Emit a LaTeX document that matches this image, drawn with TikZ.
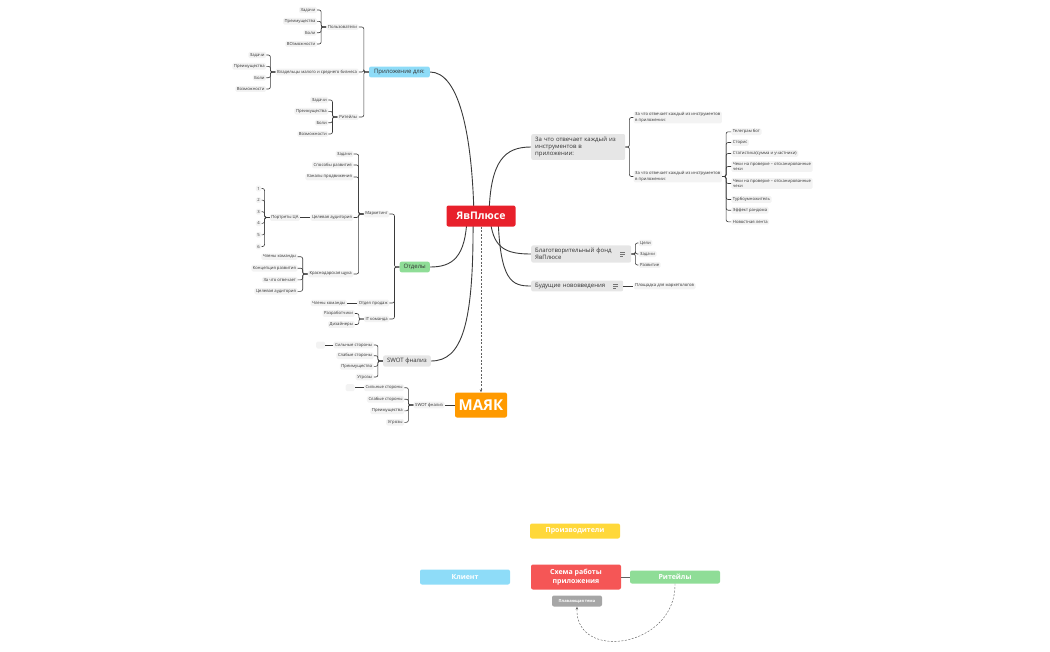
\documentclass[tikz,border=0pt]{standalone}
\usepackage{fontspec}
\setmainfont{Open Sans}
\usetikzlibrary{positioning, arrows.meta, backgrounds}

\definecolor{linec}{HTML}{3A3A3A}
\definecolor{textc}{HTML}{333333}
\definecolor{leafgray}{HTML}{F3F3F3}
\definecolor{topicgray}{HTML}{E6E6E6}
\definecolor{yavred}{HTML}{E8202B}
\definecolor{mayakor}{HTML}{FF9A00}
\definecolor{skyblue}{HTML}{8EDCF8}
\definecolor{mintgreen}{HTML}{8FDD97}
\definecolor{sunyellow}{HTML}{FFD83A}
\definecolor{schemared}{HTML}{F55656}
\definecolor{floatgray}{HTML}{A6A6A6}

% bracket links: parent on the right / on the left
\newcommand\lbr[2]{\foreach \c in {#2}{\draw[lnk] (#1.west) -- ++(-5,0) |- (\c.east);}}
\newcommand\rbr[2]{\foreach \c in {#2}{\draw[lnk] (#1.east) -- ++(4,0) |- (\c.west);}}
\newcommand\notemark[2]{%
  \draw[linec!70, line width=0.5pt] ([xshift=#2,yshift=2pt]#1.east) -- ++(5,0)
    ([xshift=#2]#1.east) -- ++(5,0)
    ([xshift=#2,yshift=-2pt]#1.east) -- ++(3,0);}

\begin{document}
\begin{tikzpicture}[
  x=1pt, y=-1pt, >=Stealth,
  leaf/.style={rounded corners=1.5pt, fill=leafgray, text=textc, inner xsep=1.6pt, inner ysep=1.3pt, font=\fontsize{4.2}{5.2}\selectfont},
  topic/.style={rounded corners=2pt, fill=topicgray, text=textc, inner xsep=4pt, inner ysep=2.6pt, font=\fontsize{6}{7.4}\selectfont},
  hub/.style={rounded corners=2pt, text=white, inner sep=1pt},
  board/.style={rounded corners=2pt, text=white, minimum width=90pt, minimum height=15pt, inner sep=1pt, font=\bfseries\fontsize{7}{8.6}\selectfont, align=center},
  lnk/.style={draw=linec, line width=0.6pt, rounded corners=2pt},
  main/.style={draw=linec, line width=0.9pt},
  dsh/.style={draw=linec!80, line width=0.45pt, dash pattern=on 2pt off 1.5pt}
]
\useasboundingbox (0,0) rectangle (1050,651);

% central topics
\node[hub, fill=yavred, minimum width=69pt, minimum height=21pt, font=\bfseries\fontsize{10.5}{12}\selectfont] (yav) at (481,216) {ЯвПлюсе};
\node[hub, fill=mayakor, minimum width=52pt, minimum height=25pt, font=\bfseries\fontsize{15}{17}\selectfont] (mayak) at (481,405) {МАЯК};

% main branches
\node[topic, fill=skyblue, anchor=east, inner xsep=5pt] (prl) at (430,72) {Приложение для:};
\node[topic, fill=mintgreen, anchor=east] (otd) at (430,267) {Отделы};
\node[topic, anchor=east] (swot) at (431,361) {SWOT фнализ};
\node[topic, anchor=west, align=left, text width=86pt] (zachto) at (531,147) {За что отвечает каждый из\\инструментов в\\приложении:};
\node[topic, anchor=west, align=left, text width=92pt] (blago) at (531,254) {Благотворительный фонд\\ЯвПлюсе};
\node[topic, anchor=west, align=left, text width=84pt] (bud) at (531,286) {Будущие нововведения};
\notemark{blago}{-11pt}
\notemark{bud}{-10pt}

% Приложение для
\node[leaf, left=10pt of prl, yshift=45pt] (polz) {Пользователи};
\node[leaf, left=10pt of prl] (vlad) {Владельцы малого и среднего бизнеса};
\node[leaf, left=10pt of prl, yshift=-45pt] (ritl) {Ритейлы};
\node[leaf, left=9pt of polz, yshift=17pt] (polz1) {Задачи};
\node[leaf, left=9pt of polz, yshift=5.7pt] (polz2) {Преимущества};
\node[leaf, left=9pt of polz, yshift=-5.7pt] (polz3) {Боли};
\node[leaf, left=9pt of polz, yshift=-17pt] (polz4) {ВОзможности};
\node[leaf, left=9pt of vlad, yshift=17pt] (vlad1) {Задачи};
\node[leaf, left=9pt of vlad, yshift=5.7pt] (vlad2) {Преимущества};
\node[leaf, left=9pt of vlad, yshift=-5.7pt] (vlad3) {Боли};
\node[leaf, left=9pt of vlad, yshift=-17pt] (vlad4) {Возможности};
\node[leaf, left=9pt of ritl, yshift=17pt] (ritl1) {Задачи};
\node[leaf, left=9pt of ritl, yshift=5.7pt] (ritl2) {Преимущества};
\node[leaf, left=9pt of ritl, yshift=-5.7pt] (ritl3) {Боли};
\node[leaf, left=9pt of ritl, yshift=-17pt] (ritl4) {Возможности};
\lbr{prl}{polz,vlad,ritl}
\lbr{polz}{polz1,polz2,polz3,polz4}
\lbr{vlad}{vlad1,vlad2,vlad3,vlad4}
\lbr{ritl}{ritl1,ritl2,ritl3,ritl4}

% Отделы
\node[leaf, left=10pt of otd, yshift=53pt] (mark) {Маркетинг};
\node[leaf, left=10pt of otd, yshift=-36pt] (prod) {Отдел продаж};
\node[leaf, left=10pt of otd, yshift=-52pt] (itk) {IT команда};
\node[leaf, left=10pt of mark, yshift=60pt] (mark1) {Задачи};
\node[leaf, left=10pt of mark, yshift=49pt] (mark2) {Способы развития};
\node[leaf, left=10pt of mark, yshift=37pt] (mark3) {Каналы продвижения};
\node[leaf, left=10pt of mark, yshift=-3.5pt] (mark4) {Целевая аудитория};
\node[leaf, left=10pt of mark, yshift=-60pt] (krs) {Краснодарская щука};
\node[leaf, left=10pt of mark4] (port) {Портреты ЦА};
\node[leaf, left=8pt of port, yshift=29pt] (port1) {1};
\node[leaf, left=8pt of port, yshift=17.4pt] (port2) {2};
\node[leaf, left=8pt of port, yshift=5.8pt] (port3) {3};
\node[leaf, left=8pt of port, yshift=-5.8pt] (port4) {4};
\node[leaf, left=8pt of port, yshift=-17.4pt] (port5) {5};
\node[leaf, left=8pt of port, yshift=-29pt] (port6) {6};
\node[leaf, left=10pt of krs, yshift=17.3pt] (krs1) {Члены команды};
\node[leaf, left=10pt of krs, yshift=5.8pt] (krs2) {Концепция развития};
\node[leaf, left=10pt of krs, yshift=-5.8pt] (krs3) {За что отвечает};
\node[leaf, left=10pt of krs, yshift=-17.3pt] (krs4) {Целевая аудитория};
\node[leaf, left=10pt of prod] (prod1) {Члены команды};
\node[leaf, left=9pt of itk, yshift=5.5pt] (itk1) {Разработчики};
\node[leaf, left=9pt of itk, yshift=-5.5pt] (itk2) {Дизайнеры};
\lbr{otd}{mark,prod,itk}
\lbr{mark}{mark1,mark2,mark3,mark4,krs}
\draw[lnk] (mark4) -- (port);
\lbr{port}{port1,port2,port3,port4,port5,port6}
\lbr{krs}{krs1,krs2,krs3,krs4}
\draw[lnk] (prod) -- (prod1);
\lbr{itk}{itk1,itk2}

% SWOT
\node[leaf, left=9pt of swot, yshift=16pt] (sw1) {Сильные стороны};
\node[leaf, left=9pt of swot, yshift=5.3pt] (sw2) {Слабые стороны};
\node[leaf, left=9pt of swot, yshift=-5.3pt] (sw3) {Преимущества};
\node[leaf, left=9pt of swot, yshift=-16pt] (sw4) {Угрозы};
\node[leaf, left=8pt of sw1, minimum width=9pt, minimum height=7pt] (sw1e) {};
\lbr{swot}{sw1,sw2,sw3,sw4}
\draw[lnk] (sw1) -- (sw1e);

% МАЯК
\node[leaf, left=10pt of mayak] (swm) {SWOT фнализ};
\node[leaf, left=9pt of swm, yshift=17.3pt] (swm1) {Сильные стороны};
\node[leaf, left=9pt of swm, yshift=5.8pt] (swm2) {Слабые стороны};
\node[leaf, left=9pt of swm, yshift=-5.8pt] (swm3) {Преимущества};
\node[leaf, left=9pt of swm, yshift=-17.3pt] (swm4) {Угрозы};
\node[leaf, left=9pt of swm1, minimum width=9pt, minimum height=7pt] (swm1e) {};
\draw[lnk] (mayak) -- (swm);
\lbr{swm}{swm1,swm2,swm3,swm4}
\draw[lnk] (swm1) -- (swm1e);

% За что отвечает
\node[leaf, right=8pt of zachto, yshift=29.5pt, align=left] (zt1) {За что отвечает каждый из инструментов\\в приложении:};
\node[leaf, right=8pt of zachto, yshift=-29.5pt, align=left] (zt2) {За что отвечает каждый из инструментов\\в приложении:};
\node[leaf, right=9pt of zt2, yshift=44.7pt] (tool1) {Телеграм бот};
\node[leaf, right=9pt of zt2, yshift=34pt] (tool2) {Сторис};
\node[leaf, right=9pt of zt2, yshift=23pt] (tool3) {Статистика(сумма и участники)};
\node[leaf, right=9pt of zt2, yshift=10pt, align=left] (tool4) {Чеки на проверке – отсканированные\\чеки};
\node[leaf, right=9pt of zt2, yshift=-7pt, align=left] (tool5) {Чеки на проверке – отсканированные\\чеки};
\node[leaf, right=9pt of zt2, yshift=-23pt] (tool6) {Турбоумножитель};
\node[leaf, right=9pt of zt2, yshift=-33.7pt] (tool7) {Эффект рандома};
\node[leaf, right=9pt of zt2, yshift=-45.3pt] (tool8) {Новостная лента};
\rbr{zachto}{zt1,zt2}
\rbr{zt2}{tool1,tool2,tool3,tool4,tool5,tool6,tool7,tool8}

% фонд и нововведения
\node[leaf, right=7pt of blago, yshift=11pt] (bl1) {Цели};
\node[leaf, right=7pt of blago] (bl2) {Задачи};
\node[leaf, right=7pt of blago, yshift=-11pt] (bl3) {Развитие};
\node[leaf, right=10pt of bud] (bud1) {Площадка для маркетологов};
\rbr{blago}{bl1,bl2,bl3}
\draw[lnk] (bud) -- (bud1);

% main curves
\begin{scope}[on background layer]
\draw[main] ([xshift=-7pt]yav.center) .. controls (472,130) and (458,72) .. (prl.east);
\draw[main] ([xshift=-14pt]yav.center) .. controls (466,258) and (452,267) .. (otd.east);
\draw[main] ([xshift=-8pt]yav.center) .. controls (474,325) and (462,361) .. (swot.east);
\draw[main] ([xshift=8pt]yav.center) .. controls (490,160) and (505,147) .. (zachto.west);
\draw[main] ([xshift=9pt]yav.center) .. controls (492,248) and (505,254) .. (blago.west);
\draw[main] ([xshift=17pt]yav.center) .. controls (500,282) and (512,286) .. (bud.west);
\end{scope}
\draw[dsh, -{Stealth[length=3pt,width=2.5pt]}] (yav) -- (mayak);

% схема работы
\node[board, fill=sunyellow] (proizv) at (575,531) {Производители};
\node[board, fill=skyblue] (klient) at (465,577) {Клиент};
\node[board, fill=schemared, minimum height=25pt] (schema) at (576,577) {Схема работы\\приложения};
\node[board, fill=mintgreen, minimum height=13pt] (ritlb) at (675,577) {Ритейлы};
\node[board, fill=floatgray, minimum width=50pt, minimum height=11pt, font=\bfseries\fontsize{4}{5}\selectfont] (float) at (577,601) {Плавающая тема};
\draw[linec!80, line width=0.7pt] (schema) -- (ritlb);
\draw[dsh, -{Stealth[length=3pt,width=2.5pt]}] (ritlb.south) .. controls (676,648) and (575,662) .. (float.south);
\end{tikzpicture}
\end{document}
